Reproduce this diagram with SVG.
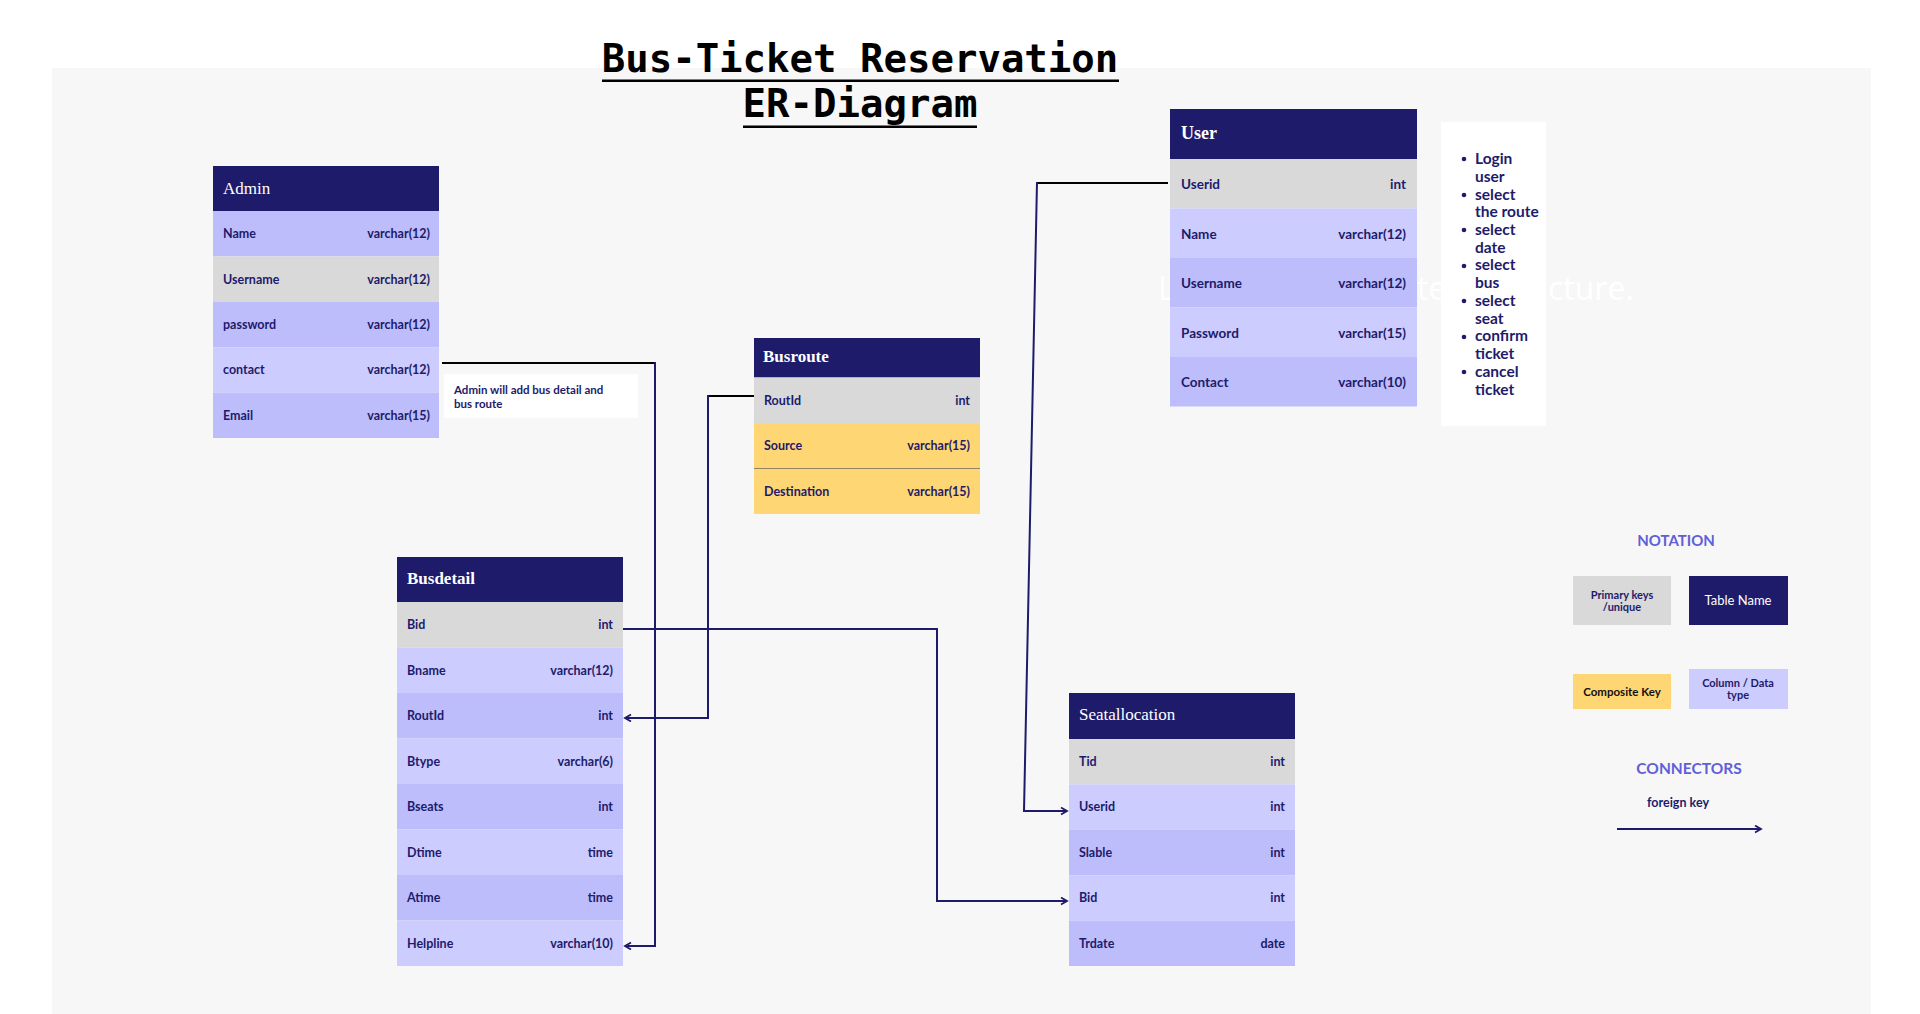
<svg xmlns="http://www.w3.org/2000/svg" width="1920" height="1014" viewBox="0 0 1920 1014">
<style>
.hd{fill:#1e1b6b}
.hdt{font-family:"Liberation Serif",serif;font-size:17px;fill:#ffffff}
.b{font-weight:bold}
.pk{fill:#d9d9d9}
.lt{fill:#ccccff}
.dk{fill:#bdbdfb}
.ck{fill:#fed673}
.f{font-family:Lato,"Noto Sans",sans-serif;font-weight:bold;font-size:12.5px;fill:#1e1b6b}
.fu{font-size:13.5px}
.r{text-anchor:end}
.c{text-anchor:middle}
.nav{stroke:#1e1b6b;stroke-width:2;fill:none}
.blk{stroke:#000000;stroke-width:2;fill:none}
.ttl{font-family:"DejaVu Sans Mono",monospace;font-weight:bold;font-size:39px;fill:#000000;text-anchor:middle}
.leg{font-family:Lato,"Noto Sans",sans-serif;font-weight:bold;font-size:15px;fill:#615fd8;text-anchor:middle}
</style>
<defs>
<marker id="arr" markerUnits="userSpaceOnUse" markerWidth="10" markerHeight="10" refX="7" refY="4" orient="auto">
<path d="M1,0.5 L7,4 L1,7.5" fill="none" stroke="#1e1b6b" stroke-width="1.8"/>
</marker>
</defs>
<rect x="0" y="0" width="1920" height="1014" fill="#ffffff"/>
<rect x="52" y="68" width="1819" height="946" fill="#f7f7f7"/>

<g id="ghost-text">
<text font-family="'Open Sans','Noto Sans',sans-serif" font-size="32" fill="#ffffff" y="300"><tspan x="1158">L</tspan><tspan x="1417">te</tspan><tspan x="1548">cture.</tspan></text>
</g>

<g id="title">
<text class="ttl" x="860" y="72">Bus-Ticket Reservation</text>
<text class="ttl" x="860" y="117">ER-Diagram</text>
<rect x="602" y="79.5" width="517" height="2.5" fill="#000"/>
<rect x="743" y="125.5" width="234" height="2.5" fill="#000"/>
</g>

<g id="admin">
<rect class="hd" x="213" y="166" width="226" height="45"/>
<text class="hdt" x="223" y="194">Admin</text>
<rect class="dk" x="213" y="211" width="226" height="45.4"/>
<rect class="pk" x="213" y="256.4" width="226" height="45.4"/>
<rect class="dk" x="213" y="301.8" width="226" height="45.4"/>
<rect class="lt" x="213" y="347.2" width="226" height="45.4"/>
<rect class="dk" x="213" y="392.6" width="226" height="45.4"/>
<text class="f" x="223" y="238">Name</text><text class="f r" x="430" y="238">varchar(12)</text>
<text class="f" x="223" y="284">Username</text><text class="f r" x="430" y="284">varchar(12)</text>
<text class="f" x="223" y="329">password</text><text class="f r" x="430" y="329">varchar(12)</text>
<text class="f" x="223" y="374">contact</text><text class="f r" x="430" y="374">varchar(12)</text>
<text class="f" x="223" y="420">Email</text><text class="f r" x="430" y="420">varchar(15)</text>
</g>

<g id="note-admin">
<rect x="444" y="374" width="194" height="44" fill="#ffffff"/>
<text class="f" style="font-size:11.5px" x="454" y="394">Admin will add bus detail and</text>
<text class="f" style="font-size:11.5px" x="454" y="408">bus route</text>
</g>

<g id="busroute">
<rect class="hd" x="754" y="338" width="226" height="39.5"/>
<text class="hdt b" x="763" y="362">Busroute</text>
<rect class="pk" x="754" y="377.5" width="226" height="45.5"/>
<rect class="ck" x="754" y="423" width="226" height="45.5"/>
<rect class="ck" x="754" y="468.5" width="226" height="45.5"/>
<line x1="754" y1="468.5" x2="980" y2="468.5" stroke="#8f8565" stroke-width="1"/>
<text class="f" x="764" y="405">RoutId</text><text class="f r" x="970" y="405">int</text>
<text class="f" x="764" y="450">Source</text><text class="f r" x="970" y="450">varchar(15)</text>
<text class="f" x="764" y="496">Destination</text><text class="f r" x="970" y="496">varchar(15)</text>
</g>

<g id="user">
<rect class="hd" x="1170" y="109" width="247" height="50"/>
<text class="hdt b" style="font-size:18px" x="1181" y="139">User</text>
<rect class="pk" x="1170" y="159" width="247" height="49.5"/>
<rect class="lt" x="1170" y="208.5" width="247" height="49.5"/>
<rect class="dk" x="1170" y="258" width="247" height="49.5"/>
<rect class="lt" x="1170" y="307.5" width="247" height="49.5"/>
<rect class="dk" x="1170" y="357" width="247" height="49.5"/>
<text class="f fu" x="1181" y="189">Userid</text><text class="f fu r" x="1406" y="189">int</text>
<text class="f fu" x="1181" y="239">Name</text><text class="f fu r" x="1406" y="239">varchar(12)</text>
<text class="f fu" x="1181" y="288">Username</text><text class="f fu r" x="1406" y="288">varchar(12)</text>
<text class="f fu" x="1181" y="338">Password</text><text class="f fu r" x="1406" y="338">varchar(15)</text>
<text class="f fu" x="1181" y="387">Contact</text><text class="f fu r" x="1406" y="387">varchar(10)</text>
</g>

<g id="user-steps">
<rect x="1441" y="122" width="105" height="304" fill="#ffffff"/>
<g fill="#1e1b6b">
<circle cx="1464" cy="159" r="2.3"/>
<circle cx="1464" cy="195" r="2.3"/>
<circle cx="1464" cy="230" r="2.3"/>
<circle cx="1464" cy="266" r="2.3"/>
<circle cx="1464" cy="301" r="2.3"/>
<circle cx="1464" cy="337" r="2.3"/>
<circle cx="1464" cy="372" r="2.3"/>
</g>
<g class="f" style="font-size:15.5px">
<text x="1475" y="164">Login</text>
<text x="1475" y="182">user</text>
<text x="1475" y="200">select</text>
<text x="1475" y="217">the route</text>
<text x="1475" y="235">select</text>
<text x="1475" y="253">date</text>
<text x="1475" y="270">select</text>
<text x="1475" y="288">bus</text>
<text x="1475" y="306">select</text>
<text x="1475" y="324">seat</text>
<text x="1475" y="341">confirm</text>
<text x="1475" y="359">ticket</text>
<text x="1475" y="377">cancel</text>
<text x="1475" y="395">ticket</text>
</g>
</g>

<g id="busdetail">
<rect class="hd" x="397" y="557" width="226" height="45"/>
<text class="hdt b" x="407" y="584">Busdetail</text>
<rect class="pk" x="397" y="602" width="226" height="45.5"/>
<rect class="lt" x="397" y="647.5" width="226" height="45.5"/>
<rect class="dk" x="397" y="693" width="226" height="45.5"/>
<rect class="lt" x="397" y="738.5" width="226" height="45.5"/>
<rect class="dk" x="397" y="784" width="226" height="45.5"/>
<rect class="lt" x="397" y="829.5" width="226" height="45.5"/>
<rect class="dk" x="397" y="875" width="226" height="45.5"/>
<rect class="lt" x="397" y="920.5" width="226" height="45.5"/>
<text class="f" x="407" y="629">Bid</text><text class="f r" x="613" y="629">int</text>
<text class="f" x="407" y="675">Bname</text><text class="f r" x="613" y="675">varchar(12)</text>
<text class="f" x="407" y="720">RoutId</text><text class="f r" x="613" y="720">int</text>
<text class="f" x="407" y="766">Btype</text><text class="f r" x="613" y="766">varchar(6)</text>
<text class="f" x="407" y="811">Bseats</text><text class="f r" x="613" y="811">int</text>
<text class="f" x="407" y="857">Dtime</text><text class="f r" x="613" y="857">time</text>
<text class="f" x="407" y="902">Atime</text><text class="f r" x="613" y="902">time</text>
<text class="f" x="407" y="948">Helpline</text><text class="f r" x="613" y="948">varchar(10)</text>
</g>

<g id="seatallocation">
<rect class="hd" x="1069" y="693" width="226" height="46"/>
<text class="hdt" x="1079" y="720">Seatallocation</text>
<rect class="pk" x="1069" y="739" width="226" height="45.4"/>
<rect class="lt" x="1069" y="784.4" width="226" height="45.4"/>
<rect class="dk" x="1069" y="829.8" width="226" height="45.4"/>
<rect class="lt" x="1069" y="875.2" width="226" height="45.4"/>
<rect class="dk" x="1069" y="920.6" width="226" height="45.4"/>
<text class="f" x="1079" y="766">Tid</text><text class="f r" x="1285" y="766">int</text>
<text class="f" x="1079" y="811">Userid</text><text class="f r" x="1285" y="811">int</text>
<text class="f" x="1079" y="857">Slable</text><text class="f r" x="1285" y="857">int</text>
<text class="f" x="1079" y="902">Bid</text><text class="f r" x="1285" y="902">int</text>
<text class="f" x="1079" y="948">Trdate</text><text class="f r" x="1285" y="948">date</text>
</g>

<g id="connectors">
<path class="blk" d="M442,363 H655"/>
<path class="nav" d="M655,362 V946 H625" marker-end="url(#arr)"/>
<path class="blk" d="M754,396 H708"/>
<path class="nav" d="M708,395 V718 H625" marker-end="url(#arr)"/>
<path class="nav" d="M623,629 H937 V901 H1067" marker-end="url(#arr)"/>
<path class="blk" d="M1168,183 H1037"/>
<path class="nav" d="M1037,182 L1024,811 H1067" marker-end="url(#arr)"/>
</g>

<g id="legend">
<text class="leg" x="1676" y="546">NOTATION</text>
<rect x="1573" y="576" width="98" height="49" fill="#d9d9d9"/>
<text class="f c" style="font-size:11px" x="1622" y="599">Primary keys</text>
<text class="f c" style="font-size:11px" x="1622" y="611">/unique</text>
<rect x="1689" y="576" width="99" height="49" fill="#1e1b6b"/>
<text x="1738" y="605" font-family="Lato,'Noto Sans',sans-serif" font-size="13" fill="#ffffff" text-anchor="middle">Table Name</text>
<rect x="1573" y="674" width="98" height="35" fill="#fed673"/>
<text class="f c" style="font-size:11.5px;fill:#111111" x="1622" y="696">Composite Key</text>
<rect x="1689" y="669" width="99" height="40" fill="#ccccff"/>
<text class="f c" style="font-size:11px" x="1738" y="687">Column / Data</text>
<text class="f c" style="font-size:11px" x="1738" y="699">type</text>
<text class="leg" style="font-size:15.5px" x="1689" y="774">CONNECTORS</text>
<text class="f c" x="1678" y="807">foreign key</text>
<path class="nav" d="M1617,829 H1761" marker-end="url(#arr)"/>
</g>
</svg>
